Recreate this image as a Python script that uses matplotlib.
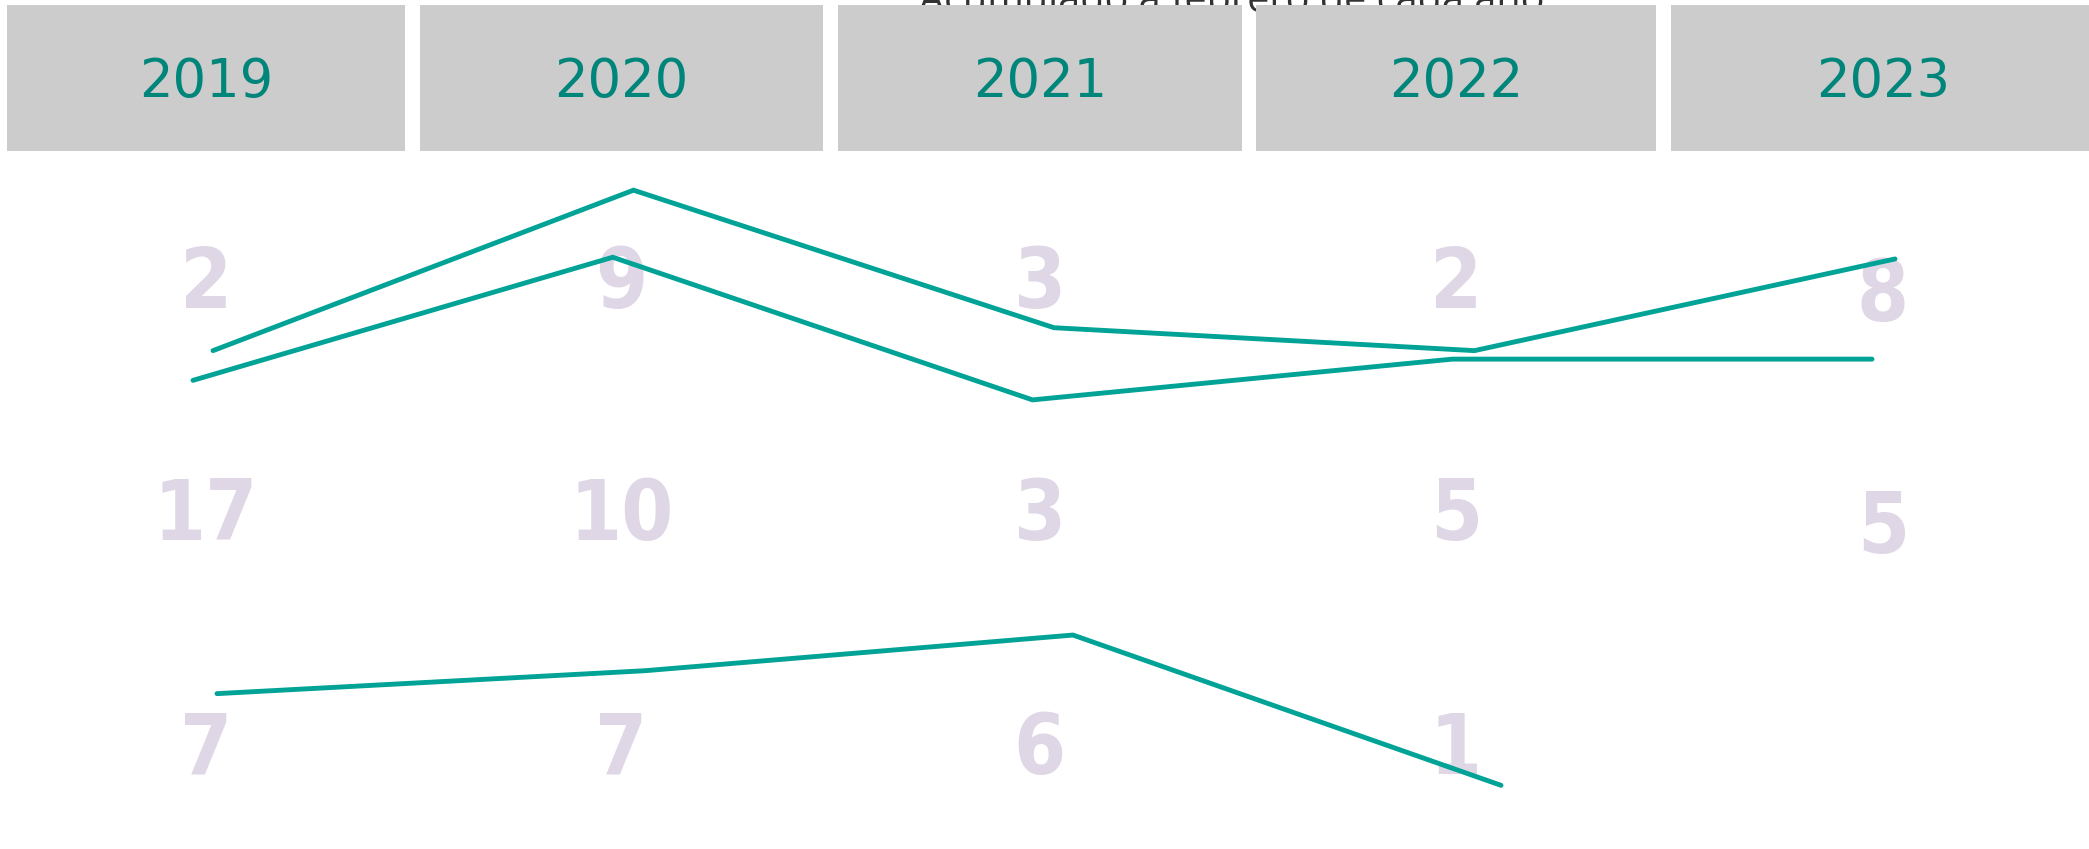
import matplotlib
matplotlib.use("Agg")
import matplotlib.pyplot as plt
from matplotlib.patches import Rectangle

# --- data
title = "Acumulado a febrero de cada año"
years = [2019, 2020, 2021, 2022, 2023]
row_top = [2, 9, 3, 2, 8]
row_mid = [17, 10, 3, 5, 5]
row_low = [7, 7, 6, 1, None]

years_a = [2019, 2020, 2021, 2022, 2023]
line_a = [58.7, 77.6, 61.4, 58.7, 69.5]
years_b = [2019, 2020, 2021, 2022, 2023]
line_b = [55.2, 69.7, 52.9, 57.7, 57.7]
years_c = [2019, 2020, 2021, 2022]
line_c = [18.3, 21.0, 25.2, 7.5]

# --- layout (pixels)
W, H = 2089, 849
TOP = 5
lefts = [7, 420, 838, 1256, 1671]
rights = [405, 823, 1242, 1656, 2095]
header_bottom = 151
row_base = [308, 540, 774]
row_shift = [0, 0, 0, 0, 13]

grey = "#CCCCCC"
teal_dark = "#00857A"
teal = "#00A396"
lilac = "#DFD6E6"

fig = plt.figure(figsize=(W / 100, H / 100), dpi=100)
fig.patch.set_facecolor("white")

# title sits behind the header boxes and is mostly cut off at the top
fig.text(1232 / W, 1 - 12 / H, title, ha="center", va="baseline",
         fontsize=28.5, color="#333333", family="Open Sans", zorder=-1)

for i, year in enumerate(years):
    l, r = lefts[i], rights[i]
    ax = fig.add_axes([l / W, 0, (r - l) / W, (H - TOP) / H])
    ax.set_xlim(0, 1)
    ax.set_ylim(H, TOP)
    ax.axis("off")

    ax.add_patch(Rectangle((0, TOP), 1, header_bottom - TOP, facecolor=grey,
                           edgecolor="none", clip_on=False))
    ax.text(0.5, 97, str(year), ha="center", va="baseline",
            fontsize=38, color=teal_dark, family="DejaVu Sans")

    for base, val in zip(row_base, [row_top[i], row_mid[i], row_low[i]]):
        if val is None:
            continue
        ax.text(0.5, base + row_shift[i], str(val), ha="center", va="baseline",
                fontsize=60, fontweight="bold", fontstretch="condensed",
                color=lilac, family="DejaVu Sans")


def overlay(x0_px, step_px):
    # transparent axes over the whole figure, year -> pixel mapping per series
    ov = fig.add_axes([0, 0, 1, 1])
    ov.set_xlim(2019 - x0_px / step_px, 2019 + (W - x0_px) / step_px)
    ov.set_ylim(0, 100)
    ov.axis("off")
    return ov


line_kw = dict(color=teal, lw=3.5, solid_capstyle="round", solid_joinstyle="miter")
overlay(213, 420.5).plot(years_a, line_a, **line_kw)
overlay(193, 419.75).plot(years_b, line_b, **line_kw)
overlay(217, 428).plot(years_c, line_c, **line_kw)

fig.savefig("out.png", dpi=100, facecolor="white")
